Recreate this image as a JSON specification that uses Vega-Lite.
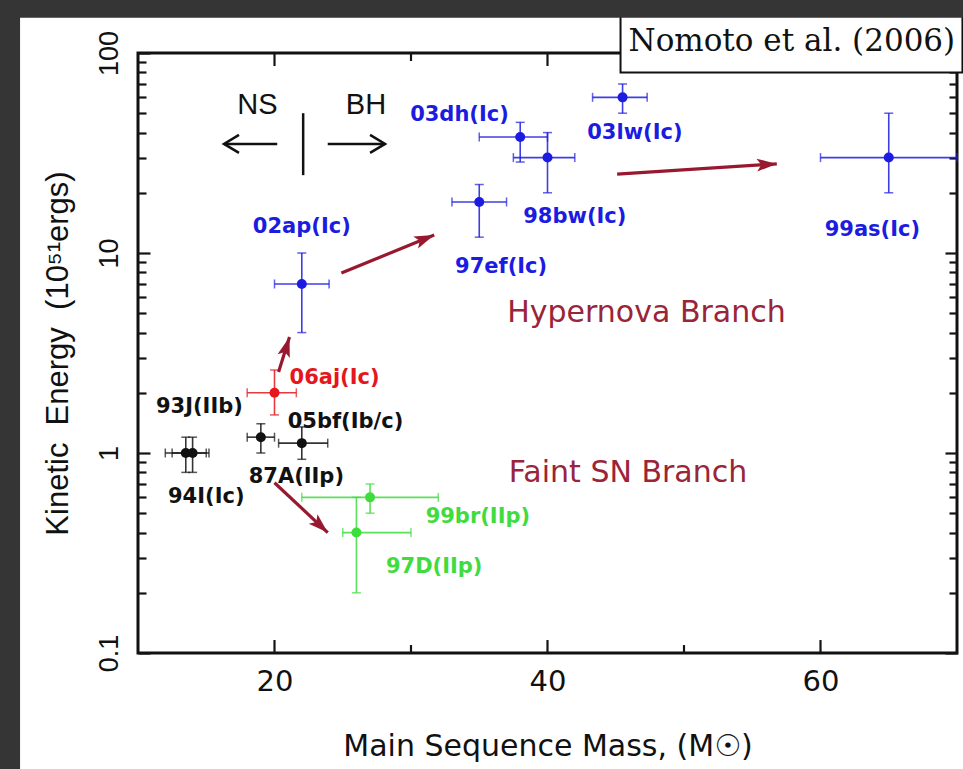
{
  "$schema": "https://vega.github.io/schema/vega-lite/v6.json",
  "width": 819,
  "height": 600,
  "autosize": {"type": "none"},
  "padding": {"left": 138, "top": 53, "right": 6, "bottom": 116},
  "background": "white",
  "config": {
    "view": {"stroke": "#111111", "strokeWidth": 3},
    "axis": {"domain": false, "grid": false, "labelFlush": false, "labelOverlap": false, "labelBound": false}
  },
  "datasets": {
    "sn": [
      {"name": "02ap", "cls": "Hypernova", "mass": 22, "mlo": 20, "mhi": 24, "E": 7, "elo": 4, "ehi": 10},
      {"name": "97ef", "cls": "Hypernova", "mass": 35, "mlo": 33, "mhi": 37, "E": 18, "elo": 12, "ehi": 22},
      {"name": "03dh", "cls": "Hypernova", "mass": 38, "mlo": 35, "mhi": 40, "E": 38, "elo": 28.5, "ehi": 45},
      {"name": "98bw", "cls": "Hypernova", "mass": 40, "mlo": 37.5, "mhi": 42, "E": 30, "elo": 20, "ehi": 40},
      {"name": "03lw", "cls": "Hypernova", "mass": 45.5, "mlo": 43.3, "mhi": 47.3, "E": 60, "elo": 50, "ehi": 70},
      {"name": "99as", "cls": "Hypernova", "mass": 65, "mlo": 60, "mhi": 70, "E": 30, "elo": 20, "ehi": 50},
      {"name": "06aj", "cls": "XRF", "mass": 20, "mlo": 18, "mhi": 21.6, "E": 2, "elo": 1.55, "ehi": 2.6},
      {"name": "87A", "cls": "Normal", "mass": 19, "mlo": 18, "mhi": 20, "E": 1.2, "elo": 1.0, "ehi": 1.4},
      {"name": "05bf", "cls": "Normal", "mass": 22, "mlo": 20.3, "mhi": 23.9, "E": 1.12, "elo": 0.93, "ehi": 1.35},
      {"name": "93J", "cls": "Normal", "mass": 13.5, "mlo": 12, "mhi": 15, "E": 1, "elo": 0.8, "ehi": 1.2},
      {"name": "94I", "cls": "Normal", "mass": 14, "mlo": 12.5, "mhi": 15.2, "E": 1, "elo": 0.8, "ehi": 1.2},
      {"name": "97D", "cls": "Faint", "mass": 26, "mlo": 25, "mhi": 30, "E": 0.4, "elo": 0.2, "ehi": 0.6},
      {"name": "99br", "cls": "Faint", "mass": 27, "mlo": 22, "mhi": 32, "E": 0.6, "elo": 0.5, "ehi": 0.7}
    ],
    "labels": [
      {"text": "03dh(Ic)", "cls": "Hypernova", "mass": 33.55, "E": 49},
      {"text": "03lw(Ic)", "cls": "Hypernova", "mass": 46.4, "E": 40},
      {"text": "02ap(Ic)", "cls": "Hypernova", "mass": 22.0, "E": 13.5},
      {"text": "98bw(Ic)", "cls": "Hypernova", "mass": 42.0, "E": 15.1},
      {"text": "97ef(Ic)", "cls": "Hypernova", "mass": 36.6, "E": 8.5},
      {"text": "99as(Ic)", "cls": "Hypernova", "mass": 63.8, "E": 13.0},
      {"text": "06aj(Ic)", "cls": "XRF", "mass": 24.4, "E": 2.37},
      {"text": "93J(IIb)", "cls": "Normal", "mass": 14.5, "E": 1.7},
      {"text": "05bf(Ib/c)", "cls": "Normal", "mass": 25.2, "E": 1.43},
      {"text": "87A(IIp)", "cls": "Normal", "mass": 21.6, "E": 0.76},
      {"text": "94I(Ic)", "cls": "Normal", "mass": 15.0, "E": 0.6},
      {"text": "99br(IIp)", "cls": "Faint", "mass": 34.9, "E": 0.48},
      {"text": "97D(IIp)", "cls": "Faint", "mass": 31.7, "E": 0.27}
    ],
    "branches": [
      {"text": "Hypernova Branch", "mass": 47.25, "E": 5.0},
      {"text": "Faint SN Branch", "mass": 45.9, "E": 0.794}
    ],
    "nsbh": [
      {"text": "NS", "mass": 18.75, "E": 55},
      {"text": "BH", "mass": 26.7, "E": 55}
    ],
    "nsbhLines": [
      {"x1": 20.2, "y1": 35.1, "x2": 16.3, "y2": 35.1},
      {"x1": 23.9, "y1": 35.1, "x2": 28.1, "y2": 35.1},
      {"x1": 22.1, "y1": 24.5, "x2": 22.1, "y2": 50}
    ],
    "nsbhHeads": [
      {"dir": "L", "mass": 16.3, "E": 35.1},
      {"dir": "R", "mass": 28.1, "E": 35.1}
    ],
    "arrows": [
      {"id": "a1", "x1": 24.9, "y1": 7.94, "x2": 31.7, "y2": 12.3},
      {"id": "a2", "x1": 45.1, "y1": 24.8, "x2": 56.8, "y2": 27.9},
      {"id": "a3", "x1": 20.3, "y1": 2.54, "x2": 21.1, "y2": 3.8},
      {"id": "a4", "x1": 20.0, "y1": 0.71, "x2": 23.9, "y2": 0.4}
    ],
    "xticks": [
      {"m": 20, "kind": "major"}, {"m": 40, "kind": "major"}, {"m": 60, "kind": "major"},
      {"m": 30, "kind": "minor"}, {"m": 50, "kind": "minor"}
    ],
    "credit": [
      {"text": "Nomoto et al. (2006)", "mass": 57.9, "E": 114, "mlo": 45.35, "mhi": 70.4, "elo": 80, "ehi": 170}
    ],
    "slide": [
      {"part": "left", "mlo": -0.2, "mhi": 1.36, "elo": 0.02, "ehi": 200},
      {"part": "top", "mlo": -0.2, "mhi": 71, "elo": 150, "ehi": 200}
    ]
  },
  "resolve": {"axis": {"x": "independent", "y": "independent"}},
  "layer": [
    {
      "data": {"name": "sn"},
      "mark": {"type": "errorbar", "ticks": {"size": 9, "thickness": 1.5}, "rule": {"strokeWidth": 1.6, "opacity": 0.85}},
      "encoding": {
        "x": {"field": "mlo", "type": "quantitative", "axis": null},
        "x2": {"field": "mhi"},
        "y": {"field": "E", "type": "quantitative", "axis": null},
        "color": {"field": "cls", "type": "nominal", "legend": null, "scale": {"domain": ["Hypernova", "XRF", "Normal", "Faint"], "range": ["#1c1ce0", "#e3171d", "#111111", "#3fdc3f"]}}
      }
    },
    {
      "data": {"name": "sn"},
      "mark": {"type": "errorbar", "ticks": {"size": 9, "thickness": 1.5}, "rule": {"strokeWidth": 1.6, "opacity": 0.85}},
      "encoding": {
        "y": {"field": "elo", "type": "quantitative", "axis": null},
        "y2": {"field": "ehi"},
        "x": {"field": "mass", "type": "quantitative", "axis": null},
        "color": {"field": "cls", "type": "nominal", "legend": null}
      }
    },
    {
      "data": {"name": "sn"},
      "mark": {"type": "point", "filled": true, "shape": "circle", "size": 100, "opacity": 1},
      "encoding": {
        "x": {
          "field": "mass", "type": "quantitative",
          "scale": {"domain": [10, 70], "nice": false, "zero": false},
          "axis": {
            "orient": "bottom",
            "values": [20, 40, 60],
            "ticks": false,
            "labelPadding": 14,
            "labelBaseline": "top",
            "labelFont": "DejaVu Sans", "labelFontSize": 29, "labelColor": "#111111",
            "title": "Main Sequence Mass, (M☉)",
            "titleFont": "DejaVu Sans", "titleFontSize": 30, "titleFontWeight": "normal", "titleColor": "#111111",
            "titleX": 409.5, "titleY": 93, "titleAlign": "center", "titleBaseline": "middle", "titleAnchor": null
          }
        },
        "y": {
          "field": "E", "type": "quantitative",
          "scale": {"type": "log", "domain": [0.1, 100], "nice": false},
          "axis": {
            "orient": "left",
            "values": [0.1, 0.2, 0.3, 0.4, 0.5, 0.6, 0.7, 0.8, 0.9, 1, 2, 3, 4, 5, 6, 7, 8, 9, 10, 20, 30, 40, 50, 60, 70, 80, 90, 100],
            "labelExpr": "datum.value == 0.1 ? '0.1' : datum.value == 1 ? '1' : datum.value == 10 ? '10' : datum.value == 100 ? '100' : ''",
            "ticks": true,
            "tickSize": {"condition": {"test": "datum.value == 0.1 || datum.value == 1 || datum.value == 10 || datum.value == 100", "value": -12}, "value": -8},
            "tickColor": "#141414",
            "tickWidth": 2.2,
            "tickOpacity": 1,
            "labelPadding": 33,
            "labelAngle": -90,
            "labelAlign": "center",
            "labelBaseline": "alphabetic",
            "labelFont": "Liberation Sans", "labelFontSize": 27, "labelColor": "#111111",
            "title": "Kinetic\u00a0\u00a0Energy\u00a0\u00a0(10⁵¹ergs)",
            "titleFont": "Liberation Sans", "titleFontSize": 31, "titleFontWeight": "normal", "titleColor": "#111111",
            "titleX": -80, "titleY": 300, "titleAngle": -90, "titleAlign": "center", "titleBaseline": "middle"
          }
        },
        "color": {"field": "cls", "type": "nominal", "legend": null}
      }
    },
    {
      "data": {"name": "xticks"},
      "transform": [{"filter": "datum.kind == 'major'"}],
      "mark": {"type": "rule", "color": "#141414", "strokeWidth": 2.2},
      "encoding": {
        "x": {"field": "m", "type": "quantitative", "axis": null},
        "y": {"datum": 0.1, "type": "quantitative", "axis": null},
        "y2": {"datum": 0.1161}
      }
    },
    {
      "data": {"name": "xticks"},
      "transform": [{"filter": "datum.kind == 'minor'"}],
      "mark": {"type": "rule", "color": "#141414", "strokeWidth": 2.2},
      "encoding": {
        "x": {"field": "m", "type": "quantitative", "axis": null},
        "y": {"datum": 0.1, "type": "quantitative", "axis": null},
        "y2": {"datum": 0.1096}
      }
    },
    {
      "data": {"name": "xticks"},
      "transform": [{"filter": "datum.kind == 'major'"}],
      "mark": {"type": "rule", "color": "#141414", "strokeWidth": 2.2},
      "encoding": {
        "x": {"field": "m", "type": "quantitative", "axis": null},
        "y": {"datum": 100, "type": "quantitative", "axis": null},
        "y2": {"datum": 86.1}
      }
    },
    {
      "data": {"name": "xticks"},
      "transform": [{"filter": "datum.kind == 'minor'"}],
      "mark": {"type": "rule", "color": "#141414", "strokeWidth": 2.2},
      "encoding": {
        "x": {"field": "m", "type": "quantitative", "axis": null},
        "y": {"datum": 100, "type": "quantitative", "axis": null},
        "y2": {"datum": 91.2}
      }
    },
    {
      "data": {"name": "labels"},
      "mark": {"type": "text", "font": "DejaVu Sans", "fontWeight": "bold", "fontSize": 21, "align": "center", "baseline": "middle"},
      "encoding": {
        "x": {"field": "mass", "type": "quantitative", "axis": null},
        "y": {"field": "E", "type": "quantitative", "axis": null},
        "text": {"field": "text"},
        "color": {"field": "cls", "type": "nominal", "legend": null}
      }
    },
    {
      "data": {"name": "branches"},
      "mark": {"type": "text", "font": "DejaVu Sans", "fontSize": 30, "align": "center", "baseline": "middle", "color": "#9a2438"},
      "encoding": {
        "x": {"field": "mass", "type": "quantitative", "axis": null},
        "y": {"field": "E", "type": "quantitative", "axis": null},
        "text": {"field": "text"}
      }
    },
    {
      "data": {"name": "nsbh"},
      "mark": {"type": "text", "font": "Liberation Sans", "fontSize": 29, "align": "center", "baseline": "middle", "color": "#111111"},
      "encoding": {
        "x": {"field": "mass", "type": "quantitative", "axis": null},
        "y": {"field": "E", "type": "quantitative", "axis": null},
        "text": {"field": "text"}
      }
    },
    {
      "data": {"name": "nsbhLines"},
      "mark": {"type": "rule", "color": "#111111", "strokeWidth": 2.5},
      "encoding": {
        "x": {"field": "x1", "type": "quantitative", "axis": null},
        "y": {"field": "y1", "type": "quantitative", "axis": null},
        "x2": {"field": "x2"},
        "y2": {"field": "y2"}
      }
    },
    {
      "data": {"name": "nsbhHeads"},
      "mark": {"type": "point", "filled": false, "stroke": "#111111", "strokeWidth": 2.5, "size": 900, "opacity": 1},
      "encoding": {
        "x": {"field": "mass", "type": "quantitative", "axis": null},
        "y": {"field": "E", "type": "quantitative", "axis": null},
        "shape": {"field": "dir", "type": "nominal", "legend": null, "scale": {"domain": ["L", "R"], "range": ["M1,-0.6L0,0L1,0.6", "M-1,-0.6L0,0L-1,0.6"]}}
      }
    },
    {
      "data": {"name": "arrows"},
      "mark": {"type": "rule", "color": "#98192f", "strokeWidth": 3.2},
      "encoding": {
        "x": {"field": "x1", "type": "quantitative", "axis": null},
        "y": {
          "field": "y1", "type": "quantitative",
          "axis": {
            "orient": "right",
            "values": [0.1, 0.2, 0.3, 0.4, 0.5, 0.6, 0.7, 0.8, 0.9, 1, 2, 3, 4, 5, 6, 7, 8, 9, 10, 20, 30, 40, 50, 60, 70, 80, 90, 100],
            "labels": false,
            "ticks": true,
            "tickSize": {"condition": {"test": "datum.value == 0.1 || datum.value == 1 || datum.value == 10 || datum.value == 100", "value": -12}, "value": -8},
            "tickColor": "#141414",
            "tickWidth": 2.2,
            "tickOpacity": 1,
            "title": null
          }
        },
        "x2": {"field": "x2"},
        "y2": {"field": "y2"}
      }
    },
    {
      "data": {"name": "arrows"},
      "transform": [{"filter": "datum.id == 'a1'"}],
      "mark": {"type": "point", "filled": true, "color": "#98192f", "opacity": 1, "size": 1600, "angle": 338, "shape": "M0,0L-1,-0.32L-0.78,0L-1,0.32Z"},
      "encoding": {
        "x": {"field": "x2", "type": "quantitative", "axis": null},
        "y": {"field": "y2", "type": "quantitative", "axis": null}
      }
    },
    {
      "data": {"name": "arrows"},
      "transform": [{"filter": "datum.id == 'a2'"}],
      "mark": {"type": "point", "filled": true, "color": "#98192f", "opacity": 1, "size": 1600, "angle": 356.5, "shape": "M0,0L-1,-0.32L-0.78,0L-1,0.32Z"},
      "encoding": {
        "x": {"field": "x2", "type": "quantitative", "axis": null},
        "y": {"field": "y2", "type": "quantitative", "axis": null}
      }
    },
    {
      "data": {"name": "arrows"},
      "transform": [{"filter": "datum.id == 'a3'"}],
      "mark": {"type": "point", "filled": true, "color": "#98192f", "opacity": 1, "size": 1600, "angle": 287, "shape": "M0,0L-1,-0.32L-0.78,0L-1,0.32Z"},
      "encoding": {
        "x": {"field": "x2", "type": "quantitative", "axis": null},
        "y": {"field": "y2", "type": "quantitative", "axis": null}
      }
    },
    {
      "data": {"name": "arrows"},
      "transform": [{"filter": "datum.id == 'a4'"}],
      "mark": {"type": "point", "filled": true, "color": "#98192f", "opacity": 1, "size": 1600, "angle": 43, "shape": "M0,0L-1,-0.32L-0.78,0L-1,0.32Z"},
      "encoding": {
        "x": {"field": "x2", "type": "quantitative", "axis": null},
        "y": {"field": "y2", "type": "quantitative", "axis": null}
      }
    },
    {
      "data": {"name": "credit"},
      "mark": {"type": "rect", "fill": "white", "stroke": "#111111", "strokeWidth": 2},
      "encoding": {
        "x": {"field": "mlo", "type": "quantitative", "axis": null},
        "x2": {"field": "mhi"},
        "y": {"field": "elo", "type": "quantitative", "axis": null},
        "y2": {"field": "ehi"}
      }
    },
    {
      "data": {"name": "credit"},
      "mark": {"type": "text", "font": "DejaVu Serif", "fontSize": 31, "align": "center", "baseline": "middle", "color": "#111111"},
      "encoding": {
        "x": {"field": "mass", "type": "quantitative", "axis": null},
        "y": {"field": "E", "type": "quantitative", "axis": null},
        "text": {"field": "text"}
      }
    },
    {
      "data": {"name": "slide"},
      "mark": {"type": "rect", "fill": "#353535", "stroke": null},
      "encoding": {
        "x": {"field": "mlo", "type": "quantitative", "axis": null},
        "x2": {"field": "mhi"},
        "y": {"field": "elo", "type": "quantitative", "axis": null},
        "y2": {"field": "ehi"}
      }
    }
  ]
}
